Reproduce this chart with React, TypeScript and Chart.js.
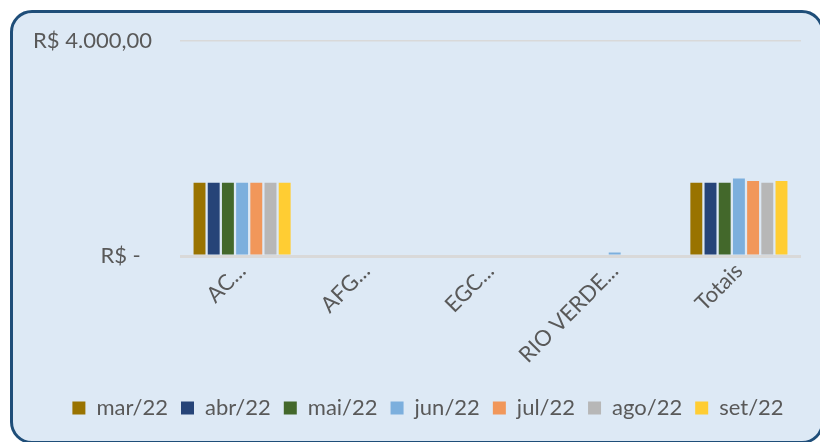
import React, { useEffect, useRef } from "react";
import { Chart, registerables } from "chart.js";

Chart.register(...registerables);

const categories = ["AC...", "AFG...", "EGC...", "RIO VERDE...", "Totais"];
const seriesNames = ["mar/22", "abr/22", "mai/22", "jun/22", "jul/22", "ago/22", "set/22"];
const seriesColors = ["#997300", "#264478", "#43682B", "#7CAFDD", "#F1975A", "#B7B7B7", "#FFCD33"];

const mar22 = [1365, 0, 0, 0, 1365];
const abr22 = [1365, 0, 0, 0, 1365];
const mai22 = [1365, 0, 0, 0, 1365];
const jun22 = [1365, 0, 0, 65, 1440];
const jul22 = [1365, 0, 0, 0, 1395];
const ago22 = [1365, 0, 0, 0, 1365];
const set22 = [1365, 0, 0, 0, 1395];

const yTickValues = [0, 4000];
const yTickLabels = ["R$ -  ", "R$ 4.000,00"];

const FONT = "Lato, 'Open Sans', sans-serif";
const TEXT = "#595959";

const legendShift = {
  id: "legendShift",
  afterLayout(chart: any) {
    const l = chart.legend;
    if (l) {
      l.left += 21;
      l.right += 21;
    }
  },
};

export default function App() {
  const ref = useRef<HTMLCanvasElement | null>(null);

  useEffect(() => {
    if (!ref.current) return;
    const all = [mar22, abr22, mai22, jun22, jul22, ago22, set22];
    const chart = new Chart(ref.current, {
      type: "bar",
      data: {
        labels: categories,
        datasets: all.map((d, i) => ({
          label: seriesNames[i],
          data: d,
          backgroundColor: seriesColors[i],
          borderWidth: 0,
          categoryPercentage: 0.8,
          barPercentage: 0.84,
        })),
      },
      plugins: [legendShift],
      options: {
        animation: false,
        responsive: false,
        maintainAspectRatio: false,
        layout: { padding: { left: 0, right: 20, top: 28, bottom: 12 } },
        plugins: {
          tooltip: { enabled: false },
          legend: {
            position: "bottom",
            labels: {
              font: { family: FONT, size: 22 },
              color: TEXT,
              boxWidth: 13,
              boxHeight: 13,
              padding: 13,
            },
          },
        },
        scales: {
          x: {
            grid: { display: false, drawTicks: false },
            border: { display: false },
            ticks: {
              color: TEXT,
              font: { family: FONT, size: 22 },
              minRotation: 45,
              maxRotation: 45,
              autoSkip: false,
              padding: 2,
            },
            afterFit: (s: any) => {
              s.height = 128;
            },
          },
          y: {
            min: 0,
            max: 4000,
            border: { display: false },
            grid: {
              color: "#D9D9D9",
              lineWidth: (c: any) => (c.tick && c.tick.value === 0 ? 3 : 1.5),
              drawTicks: false,
            },
            afterBuildTicks: (s: any) => {
              s.ticks = yTickValues.map((v) => ({ value: v }));
            },
            ticks: {
              color: TEXT,
              font: { family: FONT, size: 22 },
              padding: 28,
              callback: (v: any) => {
                const idx = yTickValues.indexOf(Number(v));
                return idx >= 0 ? yTickLabels[idx] : "";
              },
            },
            afterFit: (s: any) => {
              s.width = 167;
              s.paddingTop = 12;
              s.paddingBottom = 12;
            },
          },
        },
      },
    });
    return () => chart.destroy();
  }, []);

  return (
    <div
      style={{
        position: "absolute",
        left: 10,
        top: 10,
        width: 808,
        height: 428,
        border: "3px solid #1F4E79",
        borderRadius: 22,
        background: "#DDE9F5",
        overflow: "hidden",
      }}
    >
      <canvas ref={ref} width={808} height={428} style={{ display: "block", width: 808, height: 428 }} />
    </div>
  );
}
